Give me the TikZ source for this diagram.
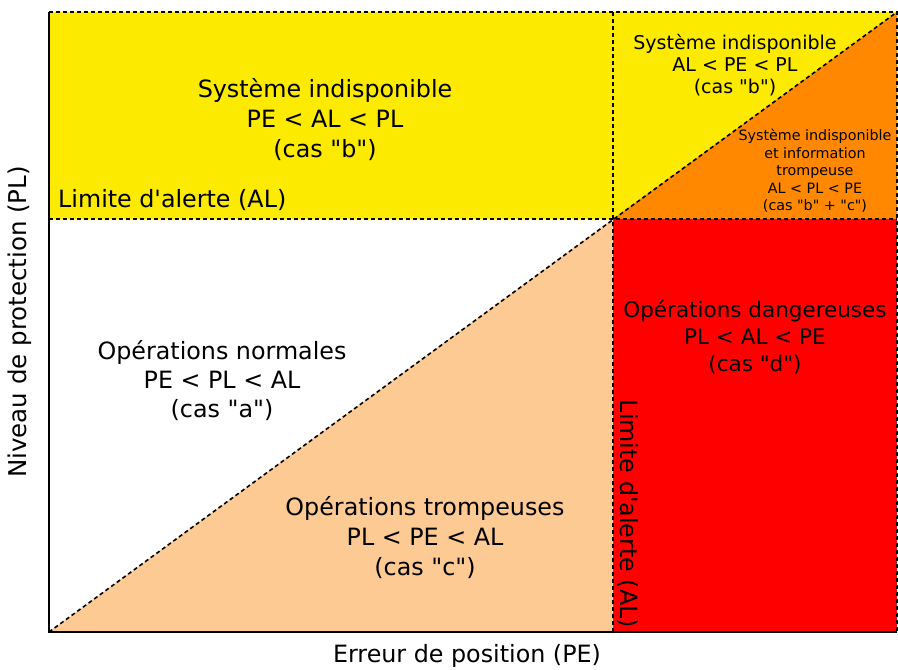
\documentclass[tikz,border=0pt]{standalone}
\usepackage{fontspec}
\setmainfont{DejaVu Sans}[Ligatures=TeXOff]
\usetikzlibrary{positioning}
\definecolor{jaune}{HTML}{FCEA00}
\definecolor{orange}{HTML}{FF8800}
\definecolor{rouge}{HTML}{FF0000}
\definecolor{peche}{HTML}{FDCA94}

\begin{document}
\begin{tikzpicture}[x=1pt, y=-1pt]
\tikzstyle{zone}=[align=center, inner sep=0pt, font=\fontsize{23.8}{30}\selectfont]
\tikzstyle{moyen}=[align=center, inner sep=0pt, font=\fontsize{19}{22}\selectfont]
\tikzstyle{petit}=[align=center, inner sep=0pt, font=\fontsize{14.3}{17.5}\selectfont]
\tikzstyle{limite}=[line width=1.6pt, dash pattern=on 4pt off 3pt]
\useasboundingbox (0,0) rectangle (898,670);

\coordinate (O) at (49,632);
\coordinate (HG) at (49,12);
\coordinate (HD) at (897,12);
\coordinate (BD) at (897,632);
\coordinate (C) at (613,219);
\coordinate (AG) at (49,219);
\coordinate (AD) at (897,219);
\coordinate (AH) at (613,12);
\coordinate (AB) at (613,632);

% zones
\fill[jaune] (HG) -- (HD) -- (C) -- (AG) -- cycle;
\fill[orange] (C) -- (HD) -- (AD) -- cycle;
\fill[rouge] (C) rectangle (BD);
\fill[peche] (O) -- (C) -- (AB) -- cycle;

% limites
\draw[limite] (AG) -- (AD);
\draw[limite] (AH) -- (AB);
\draw[limite] (O) -- (HD);
\draw[limite] (HG) -- (HD) -- (BD);
\draw[line width=1.6pt] (HG) -- (O) -- (BD);

% textes
\node[zone] (b) at (325,120) {Système indisponible\\PE < AL < PL\\(cas "b")};
\node[zone, anchor=west] (alh) at (58,200) {Limite d'alerte (AL)};
\node[moyen] (b2) at (735,65) {Système indisponible\\AL < PE < PL\\(cas "b")};
\node[petit] (bc) at (815,171) {Système indisponible\\et information\\trompeuse\\AL < PL < PE\\(cas "b" + "c")};
\node[zone, font=\fontsize{21.5}{27}\selectfont] (d) at (755,337) {Opérations dangereuses\\PL < AL < PE\\(cas "d")};
\node[zone, font=\fontsize{23.8}{29}\selectfont] (a) at (222,381) {Opérations normales\\PE < PL < AL\\(cas "a")};
\node[zone] (c) at (425,538) {Opérations trompeuses\\PL < PE < AL\\(cas "c")};
\node[zone, rotate=-90] (alv) at (628,514) {Limite d'alerte (AL)};

% axes
\node[zone] (pe) at (467,656) {Erreur de position (PE)};
\node[zone, font=\fontsize{24.5}{30}\selectfont, rotate=90] (pl) at (20,322) {Niveau de protection (PL)};
\end{tikzpicture}
\end{document}
